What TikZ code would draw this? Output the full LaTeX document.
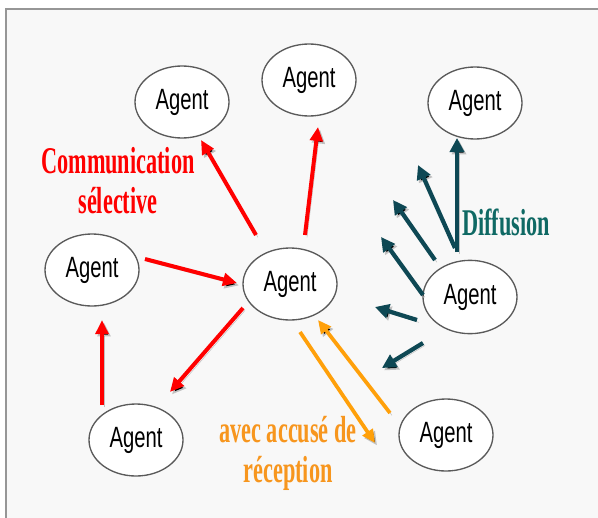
\documentclass[tikz,border=0pt]{standalone}
\usepackage{fontspec}
\usetikzlibrary{shapes.geometric,arrows.meta,calc}
\newfontfamily\agentfont[FakeStretch=0.69]{Liberation Sans}
\newfontfamily\labfont[FakeStretch=0.59]{Liberation Serif Bold}
\definecolor{bggray}{RGB}{248,248,248}
\definecolor{framegray}{RGB}{150,150,150}
\definecolor{ellgray}{RGB}{90,90,90}
\definecolor{myred}{RGB}{255,0,0}
\definecolor{myorange}{RGB}{255,160,10}
\definecolor{txtorange}{RGB}{247,150,30}
\definecolor{myteal}{RGB}{14,72,84}
\definecolor{txtteal}{RGB}{15,105,100}
\tikzset{
  agent/.style={ellipse, draw=ellgray, line width=1pt, fill=white, inner sep=0pt,
    minimum width=70.5pt, minimum height=54pt,
    font=\agentfont\fontsize{22}{22}\selectfont},
  lab/.style={font=\labfont\fontsize{28.3}{30}\selectfont, inner sep=0pt, anchor=base},
  shad/.style={preaction={draw=black, draw opacity=0.22, transform canvas={shift={(1.5pt,-1.8pt)}}}},
  redarr/.style={shad, draw=myred, line width=3pt, -{Triangle[length=10.5pt,width=9.5pt]}},
  tealarr/.style={shad, draw=myteal, line width=3.2pt, -{Triangle[length=10.5pt,width=10.5pt]}},
  orarr/.style={shad, draw=myorange, line width=2.8pt, -{Triangle[length=10pt,width=9pt]}}
}
\begin{document}
\begin{tikzpicture}[x=0.75pt,y=-0.75pt]
\useasboundingbox (0,0) rectangle (598,517);
\clip (0,0) rectangle (598,517);
\fill[white] (0,0) rectangle (598,517);
\draw[framegray, line width=1.5pt, fill=bggray] (6,9) rectangle (640,560);

% nodes
\node[agent] (tl) at (182,102) {Agent};
\node[agent] (tc) at (309,80) {Agent};
\node[agent] (tr) at (475,103) {Agent};
\node[agent] (lf) at (92,270) {Agent};
\node[agent] (ce) at (290,284) {Agent};
\node[agent, minimum height=55pt] (ra) at (470,297) {Agent};
\node[agent] (bl) at (136,440) {Agent};
\node[agent] (br) at (446,435) {Agent};

% labels
\node[lab, text=myred] (comm1) at (118,173) {Communication};
\node[lab, text=myred] (comm2) at (118,213) {sélective};
\node[lab, text=txtteal] (diff) at (506,235) {Diffusion};
\node[lab, text=txtorange] (acc1) at (288,442) {avec accusé de};
\node[lab, text=txtorange] (acc2) at (288,482) {réception};

% free ends of the broadcast fan
\coordinate (f1) at (418,165);
\coordinate (f2) at (393,200);
\coordinate (f3) at (381,237);
\coordinate (f4) at (375,307);
\coordinate (f5) at (382,368);

% red arrows (selective communication)
\draw[redarr] ($(ce)+(-34,-49)$) -- ($(tl)+(19,38)$);
\draw[redarr] ($(ce)+(15,-49)$) -- ($(tc)+(9,47)$);
\draw[redarr] ($(lf)+(53,-11)$) -- ($(ce)+(-53,-1)$);
\draw[redarr] ($(ce)+(-47,24)$) -- ($(bl)+(34,-48)$);
\draw[redarr] ($(bl)+(-34,-35)$) -- ($(lf)+(10,50)$);

% teal arrows (broadcast)
\draw[tealarr] ($(ra)+(-13,-45)$) -- ($(tr)+(-18,35)$);
\draw[tealarr] ($(ra)+(-15,-49)$) -- (f1);
\draw[tealarr] ($(ra)+(-35,-37)$) -- (f2);
\draw[tealarr] ($(ra)+(-47,-2)$) -- (f3);
\draw[tealarr] ($(ra)+(-53,23)$) -- (f4);
\draw[tealarr] ($(ra)+(-47,46)$) -- (f5);

% orange arrows (acknowledged)
\draw[orarr] ($(ce)+(10,48)$) -- ($(br)+(-71,8)$);
\draw[orarr] ($(br)+(-56,-22)$) -- ($(ce)+(28,36)$);
\end{tikzpicture}
\end{document}
